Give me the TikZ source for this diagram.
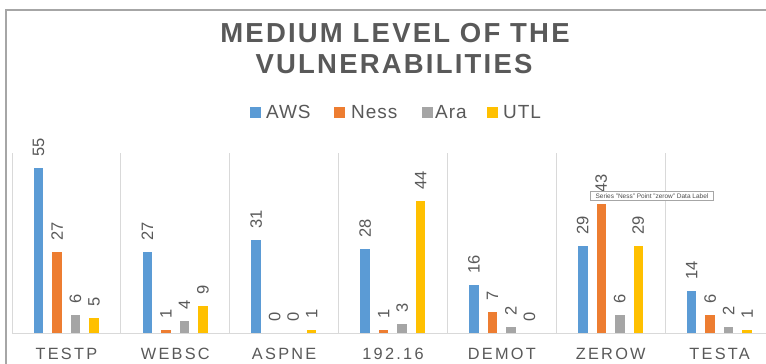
\documentclass[tikz,border=0pt]{standalone}
\usepackage{fontspec}
\usepackage{graphicx}
\setmainfont{Liberation Sans}
\newfontfamily\titlefont{Liberation Sans}[LetterSpace=8]
\newfontfamily\catfont{Liberation Sans}[LetterSpace=14]
\newfontfamily\legfont{Liberation Sans}[LetterSpace=5]
\definecolor{aws}{HTML}{5B9BD5}
\definecolor{ness}{HTML}{ED7D31}
\definecolor{ara}{HTML}{A5A5A5}
\definecolor{utl}{HTML}{FFC000}
\definecolor{lbl}{HTML}{595959}
\definecolor{gridc}{HTML}{D9D9D9}
\definecolor{framec}{HTML}{A6A6A6}
\tikzset{
  gridline/.style={draw=gridc, line width=1pt},
  framel/.style={draw=framec, line width=2pt},
  vallbl/.style={rotate=90, anchor=west, inner sep=0pt, text=lbl, font=\fontsize{16.5}{16.5}\selectfont},
  catlbl/.style={anchor=base, inner sep=0pt, text=lbl, font=\catfont\fontsize{16.3}{16.3}\selectfont},
  titl/.style={anchor=base, inner sep=0pt, text=lbl, font=\titlefont\bfseries\fontsize{27.5}{27.5}\selectfont},
  legsq/.style={minimum width=11pt, minimum height=11pt, inner sep=0pt, draw=none},
  legtxt/.style={anchor=base west, inner sep=0pt, text=lbl, font=\legfont\fontsize{19}{19}\selectfont},
  tip/.style={draw=gray!70, fill=white, line width=0.6pt, inner sep=0pt, minimum width=123pt, minimum height=8.5pt, text=black!70, font=\fontsize{6.5}{6.5}\selectfont}
}
\begin{document}
\begin{tikzpicture}[x=1pt,y=-1pt]
\useasboundingbox[fill=white] (0,0) rectangle (766,364);
% frame
\draw[framel] (6,364) -- (6,10) -- (766,10);
% title
\node[titl] (t1) at (395,42) {MEDIUM LEVEL OF THE};
\node[titl] (t2) at (394,73) {VULNERABILITIES};
% legend
\node[legsq, fill=aws] (sqa) at (255,112.5) {};
\node[legtxt] (la) at (266,118) {AWS};
\node[legsq, fill=ness] (sqn) at (339.5,112.5) {};
\node[legtxt] (ln) at (351,118) {Ness};
\node[legsq, fill=ara] (sqr) at (427,112.5) {};
\node[legtxt] (lr) at (435,118) {Ara};
\node[legsq, fill=utl] (squ) at (492,112.5) {};
\node[legtxt] (lu) at (503,118) {UTL};
% baseline
\draw[gridline] (12,333) -- (766,333);
% groups
\foreach \nm/\va/\vb/\vc/\vd [count=\i from 0] in {TESTP/55/27/6/5, WEBSC/27/1/4/9, ASPNE/31/0/0/1, 192.16/28/1/3/44, DEMOT/16/7/2/0, ZEROW/29/43/6/29, TESTA/14/6/2/1}{
  \pgfmathsetmacro\gx{12+108.86*\i}
  \draw[gridline] (\gx,153) -- (\gx,333);
  \node[catlbl] (c\i) at (\gx+54.43,359.3) {\nm};
  \foreach \v/\col [count=\k from 0] in {\va/aws,\vb/ness,\vc/ara,\vd/utl}{
    \pgfmathsetmacro\cx{\gx+26.5+18.5*\k}
    \pgfmathsetmacro\ty{333-3*\v}
    \ifnum\v>0 \fill[\col] (\cx-4.75,333) rectangle (\cx+4.75,\ty); \fi
    \node[vallbl] (v\i\k) at (\cx,\ty-11.5) {\v};
  }
}
% tooltip
\node[tip] (tip) at (652,196) {Series "Ness" Point "zerow" Data Label};
\end{tikzpicture}
\end{document}
